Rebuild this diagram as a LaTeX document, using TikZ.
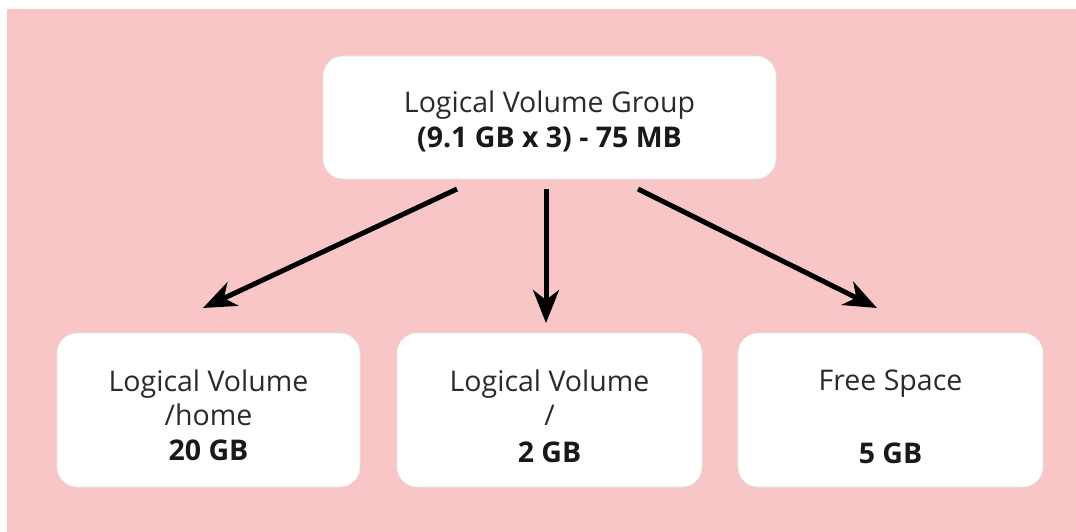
\documentclass[tikz,border=0pt]{standalone}
\usepackage{fontspec}
\setmainfont{Open Sans}
\usetikzlibrary{arrows.meta}
\definecolor{bgpink}{HTML}{F8C6C6}
\definecolor{txtgray}{HTML}{2A2A2A}
\begin{document}
\begin{tikzpicture}[x=1pt,y=-1pt,
  box/.style={draw=black!10, line width=0.6pt, fill=white, rounded corners=20pt, inner sep=0pt},
  txt/.style={anchor=base, inner sep=0pt, font=\fontsize{28.5}{33}\selectfont, text=txtgray},
  btxt/.style={txt, font=\fontsize{28.5}{33}\selectfont\bfseries, text=black!90},
  arr/.style={line width=5pt, -{Stealth[length=33pt, width=26pt, inset=10pt]}}]
\useasboundingbox (0,0) rectangle (1076,532);
\fill[bgpink] (7,9) rectangle (1076,532);
% boxes
\node[box, minimum width=453pt, minimum height=123pt] (g) at (549.5,117.5) {};
\node[box, minimum width=303pt, minimum height=154pt] (v1) at (208.5,410) {};
\node[box, minimum width=305pt, minimum height=154pt] (v2) at (549.5,410) {};
\node[box, minimum width=305pt, minimum height=154pt] (v3) at (890.5,410) {};
% texts
\node[txt] (g1) at (549.5,113) {Logical Volume Group};
\node[btxt] (g2) at (549.5,148) {(9.1 GB x 3) - 75 MB};
\node[txt] (v1a) at (208.5,391) {Logical Volume};
\node[txt] (v1b) at (208.5,425) {/home};
\node[btxt] (v1c) at (208.5,460) {20 GB};
\node[txt] (v2a) at (549.5,391) {Logical Volume};
\node[txt] (v2b) at (549.5,425) {/};
\node[btxt] (v2c) at (549.5,462) {2 GB};
\node[txt] (v3a) at (890.5,390) {Free Space};
\node[btxt] (v3c) at (890.5,463) {5 GB};
% arrow ends
\coordinate (s1) at (457,189);
\coordinate (e1) at (203,308);
\coordinate (s2) at (546,189);
\coordinate (e2) at (546,323);
\coordinate (s3) at (638,189);
\coordinate (e3) at (877,308);
\draw[arr] (s1) -- (e1);
\draw[arr] (s2) -- (e2);
\draw[arr] (s3) -- (e3);
\end{tikzpicture}
\end{document}
